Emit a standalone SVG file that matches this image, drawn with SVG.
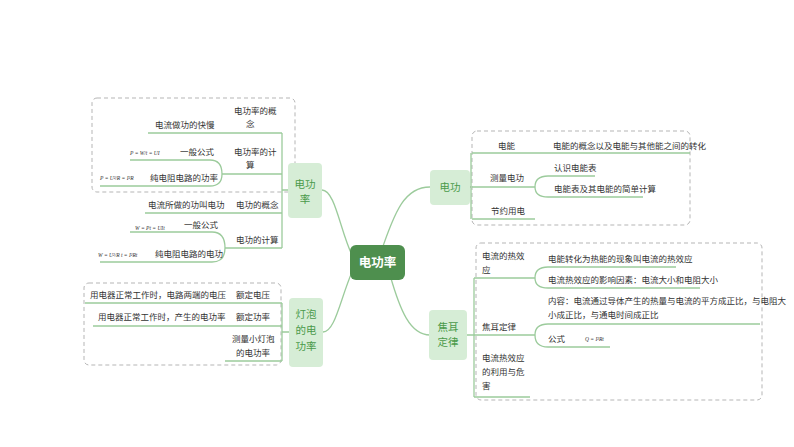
<svg xmlns="http://www.w3.org/2000/svg" width="794" height="447" viewBox="0 0 794 447">
<style>
text{font-family:"Noto Sans CJK SC","Liberation Sans",sans-serif;fill:#333;font-size:8.5px}
.l1{fill:#4a9a4a;font-size:10.5px;text-anchor:middle}
.n1{fill:#d6edd6;}
.ln{fill:none;stroke:#9ccb9c;stroke-width:1.3}
.box{fill:none;stroke:#b5b5b5;stroke-width:1;stroke-dasharray:4 3}
.f{font-family:"Liberation Serif",serif;font-size:5.5px;font-style:italic}
</style>
<rect width="794" height="447" fill="#fff"/>
<g id="boxes">
<rect class="box" x="92" y="98" width="203" height="94" rx="5"/>
<rect class="box" x="84" y="283" width="197" height="82" rx="5"/>
<rect class="box" x="472" y="131" width="218" height="94" rx="5"/>
<rect class="box" x="476" y="243" width="286" height="157" rx="5"/>
</g>
<g id="connectors" class="ln">
<path d="M380 255 C395 210 405 187 430 187"/>
<path d="M390 275 C400 310 410 335 430 335"/>
<path d="M352 255 C340 230 335 190 322 190"/>
<path d="M352 272 C340 300 335 332 323 332"/>
<path d="M288 190 L282 190 M282 133 V248 M148 133 H282 M222 174 H282 M130 160 H210 Q222 160 222 174 Q222 186 210 186 H100 M145 213 H282 M130 232 H212 Q225 232 225 248 Q225 262 212 262 H100 M225 248 H282"/>
<path d="M289 332 H282 M282 303 V361 M85 303 H282 M93 326 H282 M225 361 H282"/>
<path d="M430 187 H471 M471 153 V219 M472 153 H690 M472 187 H535 M595 176 H548 Q535 176 535 187 Q535 197 548 197 H643 M472 219 H535"/>
<path d="M467 335 H474 M474 278 V397 M474 278 H535 M676 267 H548 Q535 267 535 278 Q535 288 548 288 H700 M474 335 H535 M760 324 H548 Q535 324 535 335 Q535 347 548 347 H610 M474 397 H530"/>
</g>
<g id="center"><rect x="350" y="245" width="55" height="35" rx="6" fill="#4e8f4e"/><text x="377.5" y="267" style="fill:#fff;font-size:12.5px;font-weight:bold;text-anchor:middle">电功率</text></g>
<g id="n-diangong"><rect class="n1" x="430" y="170" width="40" height="35" rx="4"/><text class="l1" x="450" y="191">电功</text></g>
<g id="n-jiaoer"><rect class="n1" x="429" y="310" width="38" height="50" rx="4"/><text class="l1" x="448" y="331">焦耳</text><text class="l1" x="448" y="346">定律</text></g>
<g id="n-gonglv"><rect class="n1" x="288" y="163" width="34" height="55" rx="4"/><text class="l1" x="305" y="188">电功</text><text class="l1" x="305" y="203">率</text></g>
<g id="n-dengpao"><rect class="n1" x="289" y="298" width="34" height="69" rx="4"/><text class="l1" x="306" y="318">灯泡</text><text class="l1" x="306" y="334">的电</text><text class="l1" x="306" y="350">功率</text></g>
<g id="left-top">
<text x="234" y="114">电功率的概</text><text x="246" y="127">念</text>
<text x="155" y="128">电流做功的快慢</text>
<text x="234" y="155">电功率的计</text><text x="246" y="168">算</text>
<text x="180" y="155">一般公式</text>
<text x="150" y="181">纯电阻电路的功率</text>
<text class="f" x="130" y="155">P = W/t = UI</text>
<text class="f" x="100" y="180">P = U²/R = I²R</text>
<text x="148" y="208">电流所做的功叫电功</text><text x="236" y="208">电功的概念</text>
<text x="184" y="228">一般公式</text><text x="236" y="243">电功的计算</text>
<text class="f" x="135" y="230">W = Pt = UIt</text>
<text class="f" x="98" y="257">W = U²/R t = I²Rt</text>
<text x="155" y="257">纯电阻电路的电功</text>
</g>
<g id="left-bottom">
<text x="90" y="298">用电器正常工作时，电路两端的电压</text><text x="236" y="298">额定电压</text>
<text x="98" y="320">用电器正常工作时，产生的电功率</text><text x="236" y="320">额定功率</text>
<text x="232" y="342">测量小灯泡</text><text x="236" y="356">的电功率</text>
</g>
<g id="right-top">
<text x="498" y="149">电能</text><text x="553" y="149">电能的概念以及电能与其他能之间的转化</text>
<text x="490" y="181">测量电功</text><text x="554" y="171">认识电能表</text><text x="554" y="192">电能表及其电能的简单计算</text>
<text x="491" y="214">节约用电</text>
</g>
<g id="right-bottom">
<text x="482" y="259">电流的热效</text><text x="482" y="273">应</text>
<text x="548" y="262">电能转化为热能的现象叫电流的热效应</text>
<text x="548" y="283">电流热效应的影响因素：电流大小和电阻大小</text>
<text x="548" y="304">内容：电流通过导体产生的热量与电流的平方成正比，与电阻大</text>
<text x="548" y="318">小成正比，与通电时间成正比</text>
<text x="482" y="330">焦耳定律</text>
<text x="548" y="342">公式</text><text class="f" x="585" y="341">Q = I²Rt</text>
<text x="482" y="361">电流热效应</text><text x="482" y="375">的利用与危</text><text x="482" y="389">害</text>
</g>
</svg>
